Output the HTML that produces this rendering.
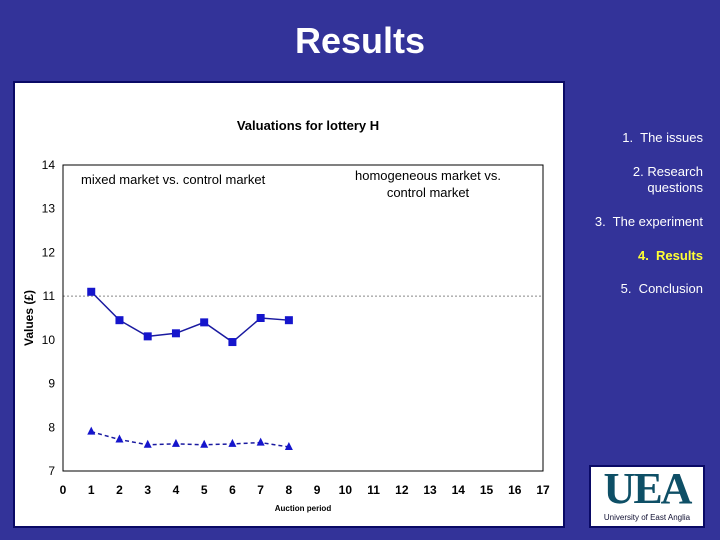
<!DOCTYPE html>
<html><head><meta charset="utf-8"><style>
body{margin:0;width:720px;height:540px;background:#333399;overflow:hidden;font-family:"Liberation Sans",sans-serif;position:relative}
.t{position:absolute;color:#fff}
.m{position:absolute;right:17px;color:#fff;font-size:13px;text-align:right;line-height:16px}
</style></head><body>
<div class="t" style="left:0;width:720px;top:20px;text-align:center;font-size:36px;font-weight:bold">Results</div>
<div class="m" style="top:130px">1.&nbsp; The issues</div>
<div class="m" style="top:164px">2. Research<br>questions</div>
<div class="m" style="top:214px">3.&nbsp; The experiment</div>
<div class="m" style="top:248px;color:#ffff33;font-weight:bold">4.&nbsp; Results</div>
<div class="m" style="top:281px">5.&nbsp; Conclusion</div>
<div style="position:absolute;left:589px;top:465px;width:112px;height:59px;background:#fff;border:2px solid #0a0a66;text-align:center">
<div style="font-family:'Liberation Serif',serif;font-size:44px;line-height:44px;color:#0e4f66;font-weight:bold;letter-spacing:-2px">UEA</div>
<div style="font-size:8px;color:#113;margin-top:2px">University of East Anglia</div>
</div>
<svg id="chart" width="720" height="540" style="position:absolute;left:0;top:0" font-family="Liberation Sans, sans-serif">
<rect x="14" y="82" width="550" height="445" fill="#fff" stroke="#0a0a66" stroke-width="2"/>
</svg>
<script>
const periods=[1,2,3,4,5,6,7,8];
const mixedVals=[11.1,10.45,10.08,10.15,10.4,9.95,10.5,10.45];
const controlVals=[7.9,7.72,7.6,7.62,7.6,7.62,7.65,7.55];
const xTicks=[0,1,2,3,4,5,6,7,8,9,10,11,12,13,14,15,16,17];
const yTicks=[7,8,9,10,11,12,13,14];
const svg=document.getElementById('chart');
const NS='http://www.w3.org/2000/svg';
const X0=63,X1=543,Y0=471,Y1=165;
const sx=v=>X0+(v-0)/(17-0)*(X1-X0);
const sy=v=>Y0-(v-7)/(14-7)*(Y0-Y1);
function mk(t,a,txt){const e=document.createElementNS(NS,t);for(const k in a)e.setAttribute(k,a[k]);if(txt!=null)e.textContent=txt;svg.appendChild(e);return e;}
let e;
e=mk('line',{x1:X0,y1:sy(11),x2:X1,y2:sy(11),stroke:'#888','stroke-width':1,'stroke-dasharray':'2,2'});


e=mk('rect',{x:X0,y:Y1,width:X1-X0,height:Y0-Y1,fill:'none',stroke:'#000','stroke-width':1});


yTicks.forEach(v=>{
 e=mk('text',{x:55,y:sy(v)+4,'text-anchor':'end','font-size':12},v);
 
 
});
xTicks.forEach(v=>{
 e=mk('text',{x:sx(v),y:494,'text-anchor':'middle','font-size':12,'font-weight':'bold'},v);
 
 
});
e=mk('text',{x:308,y:130,'text-anchor':'middle','font-size':13,'font-weight':'bold'},'Valuations for lottery H');


e=mk('text',{x:303,y:511,'text-anchor':'middle','font-size':8,'font-weight':'bold'},'Auction period');


e=mk('text',{x:0,y:0,'text-anchor':'middle','font-size':12,'font-weight':'bold',transform:'translate(33,318) rotate(-90)'},'Values (£)');


e=mk('text',{x:81,y:184,'font-size':13},'mixed market vs. control market');


e=mk('text',{x:428,y:180,'text-anchor':'middle','font-size':13},'homogeneous market vs.');


e=mk('text',{x:428,y:197,'text-anchor':'middle','font-size':13},'control market');


e=mk('polyline',{points:periods.map((p,i)=>sx(p)+','+sy(mixedVals[i])).join(' '),fill:'none',stroke:'#1a1aa0','stroke-width':1.5});


e=mk('polyline',{points:periods.map((p,i)=>sx(p)+','+sy(controlVals[i])).join(' '),fill:'none',stroke:'#1a1aa0','stroke-width':1.5,'stroke-dasharray':'4,3'});


periods.forEach((p,i)=>{
 const x=sx(p),y=sy(mixedVals[i]);
 e=mk('rect',{x:x-4,y:y-4,width:8,height:8,fill:'#1515cc'});
 
 
 const y2=sy(controlVals[i]);
 e=mk('polygon',{points:`${x},${y2-5} ${x-4},${y2+3} ${x+4},${y2+3}`,fill:'#1515cc'});
 
 
});
</script>
</body></html>
